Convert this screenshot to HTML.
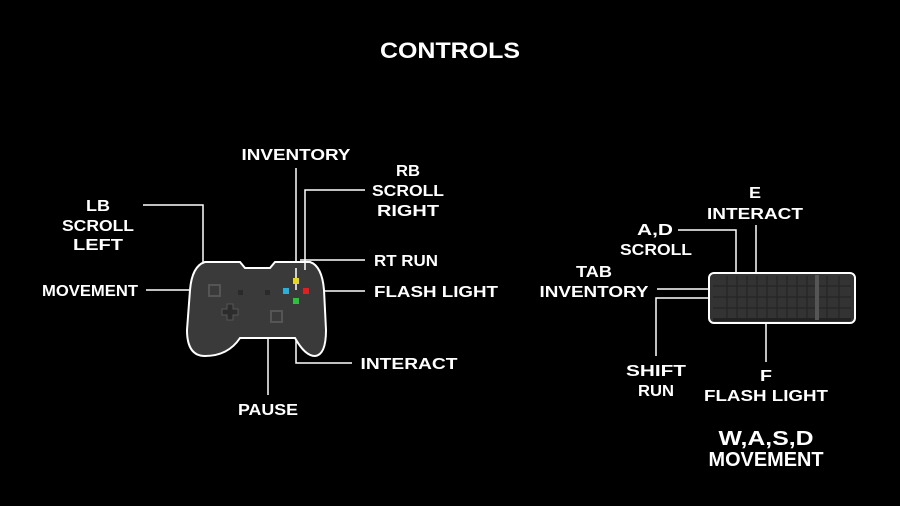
<!DOCTYPE html>
<html><head><style>
html,body{margin:0;padding:0;background:#000;}
svg{display:block}
text{font-family:"Liberation Sans",sans-serif;font-weight:bold;fill:#fff;text-anchor:middle}
</style></head><body>
<svg width="900" height="506" viewBox="0 0 900 506" xmlns="http://www.w3.org/2000/svg">
<rect width="900" height="506" fill="#000"/>
<text x="450" y="58" font-size="22" textLength="140" lengthAdjust="spacingAndGlyphs">CONTROLS</text>

<g stroke="#fff" stroke-width="1.5" fill="none">
<!-- controller lines -->
<path d="M296 168 V290"/>
<path d="M365 190 H305 V262"/>
<path d="M365 260 H300"/>
<path d="M365 291 H310"/>
<path d="M352 363 H296 V300"/>
<path d="M268 296 V395"/>
<path d="M146 290 H204"/>
<path d="M143 205 H203 V262"/>
<!-- keyboard lines -->
<path d="M756 225 V285"/>
<path d="M678 230 H736 V287"/>
<path d="M657 289 H712"/>
<path d="M712 298 H656 V356"/>
<path d="M766 300 V362"/>
</g>

<!-- controller -->
<path d="M205 262 L240 262 L245 268 L270 268 L275 262 L310 262 Q322 266 324 290 L326 330 Q326 355 315 356 Q305 356 295 338 L240 338 Q228 356 205 356 Q187 356 187 330 L190 290 Q192 266 205 262 Z" fill="#3a3a3a" stroke="#fff" stroke-width="2"/>
<path d="M296 268 V290" stroke="#fff" stroke-width="1.5"/>
<path d="M305 262 V270" stroke="#fff" stroke-width="1.5"/>
<rect x="209" y="285" width="11" height="11" fill="none" stroke="#555" stroke-width="2"/>
<rect x="271" y="311" width="11" height="11" fill="none" stroke="#555" stroke-width="2"/>
<path d="M227 304 h6 v5 h5 v6 h-5 v5 h-6 v-5 h-5 v-6 h5 z" fill="#2c2c2c" stroke="#555" stroke-width="1"/>
<rect x="238" y="290" width="5" height="5" fill="#2a2a2a"/>
<rect x="265" y="290" width="5" height="5" fill="#2a2a2a"/>
<rect x="293" y="278" width="6" height="6" fill="#e6d820"/>
<rect x="283" y="288" width="6" height="6" fill="#2ab0d8"/>
<rect x="303" y="288" width="6" height="6" fill="#e02020"/>
<rect x="293" y="298" width="6" height="6" fill="#30c040"/>

<!-- keyboard -->
<rect x="709" y="273" width="146" height="50" rx="5" fill="#333" stroke="#fff" stroke-width="2"/>
<rect x="713" y="318" width="138" height="3" fill="#222"/>
<g stroke="#262626" stroke-width="1.2">
<path d="M713 286 H851 M713 297 H851 M713 308 H851"/>
<path d="M727 276 V318 M737 276 V318 M747 276 V318 M757 276 V318 M767 276 V318 M777 276 V318 M787 276 V318 M797 276 V318 M807 276 V318 M827 276 V318 M839 276 V318"/>
</g>
<rect x="815" y="275" width="4" height="45" fill="#555"/>

<text x="296" y="160" font-size="16" textLength="109" lengthAdjust="spacingAndGlyphs">INVENTORY</text>
<text x="408" y="176" font-size="16" textLength="24" lengthAdjust="spacingAndGlyphs">RB</text>
<text x="408" y="196" font-size="16" textLength="72" lengthAdjust="spacingAndGlyphs">SCROLL</text>
<text x="408" y="216" font-size="16" textLength="62" lengthAdjust="spacingAndGlyphs">RIGHT</text>
<text x="406" y="266" font-size="16" textLength="64" lengthAdjust="spacingAndGlyphs">RT RUN</text>
<text x="436" y="297" font-size="16" textLength="124" lengthAdjust="spacingAndGlyphs">FLASH LIGHT</text>
<text x="409" y="369" font-size="16" textLength="97" lengthAdjust="spacingAndGlyphs">INTERACT</text>
<text x="268" y="415" font-size="16" textLength="60" lengthAdjust="spacingAndGlyphs">PAUSE</text>
<text x="90" y="296" font-size="16" textLength="96" lengthAdjust="spacingAndGlyphs">MOVEMENT</text>
<text x="98" y="211" font-size="16" textLength="24" lengthAdjust="spacingAndGlyphs">LB</text>
<text x="98" y="231" font-size="16" textLength="72" lengthAdjust="spacingAndGlyphs">SCROLL</text>
<text x="98" y="250" font-size="16" textLength="50" lengthAdjust="spacingAndGlyphs">LEFT</text>

<text x="755" y="198" font-size="16" textLength="12" lengthAdjust="spacingAndGlyphs">E</text>
<text x="755" y="219" font-size="16" textLength="96" lengthAdjust="spacingAndGlyphs">INTERACT</text>
<text x="655" y="235" font-size="16" textLength="36" lengthAdjust="spacingAndGlyphs">A,D</text>
<text x="656" y="255" font-size="16" textLength="72" lengthAdjust="spacingAndGlyphs">SCROLL</text>
<text x="594" y="277" font-size="16" textLength="36" lengthAdjust="spacingAndGlyphs">TAB</text>
<text x="594" y="297" font-size="16" textLength="109" lengthAdjust="spacingAndGlyphs">INVENTORY</text>
<text x="656" y="376" font-size="16" textLength="60" lengthAdjust="spacingAndGlyphs">SHIFT</text>
<text x="656" y="396" font-size="16" textLength="36" lengthAdjust="spacingAndGlyphs">RUN</text>
<text x="766" y="381" font-size="16" textLength="12" lengthAdjust="spacingAndGlyphs">F</text>
<text x="766" y="401" font-size="16" textLength="124" lengthAdjust="spacingAndGlyphs">FLASH LIGHT</text>
<text x="766" y="445" font-size="20" textLength="95" lengthAdjust="spacingAndGlyphs">W,A,S,D</text>
<text x="766" y="466" font-size="20" textLength="115" lengthAdjust="spacingAndGlyphs">MOVEMENT</text>
</svg>
</body></html>
